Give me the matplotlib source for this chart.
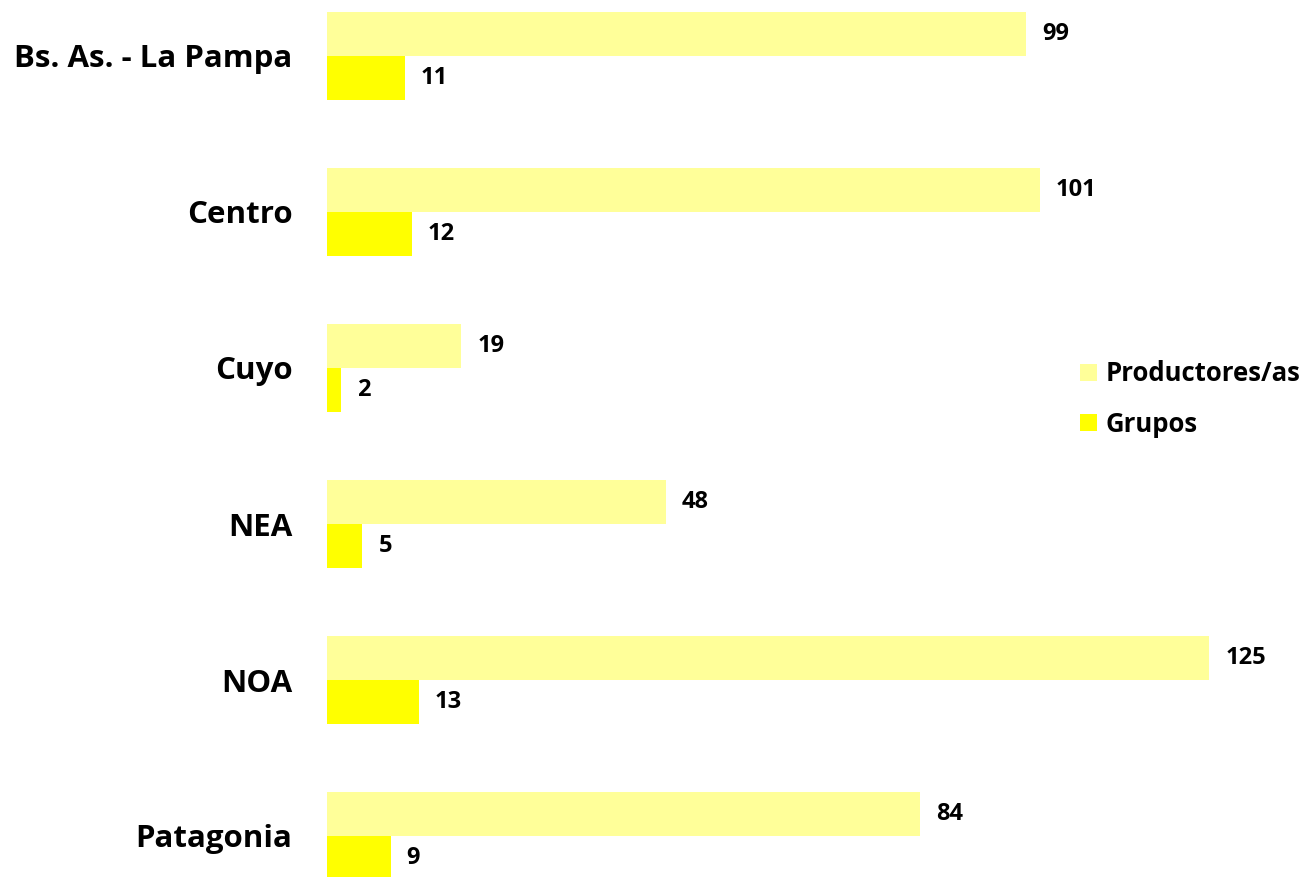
import numpy as np
import matplotlib.pyplot as plt

# datos del gráfico
regiones = ['Bs. As. - La Pampa', 'Centro', 'Cuyo', 'NEA', 'NOA', 'Patagonia']
productores = [99, 101, 19, 48, 125, 84]
grupos = [11, 12, 2, 5, 13, 9]

plt.rcParams['font.family'] = ['Open Sans', 'DejaVu Sans']
plt.rcParams['font.weight'] = 'bold'

fig = plt.figure(figsize=(13.12, 8.77), dpi=100)
# eje ocupando todo el alto; a la izquierda dejamos sitio para las etiquetas
ax = fig.add_axes([327 / 1312, 0, 985 / 1312, 1])

y = np.arange(len(regiones))
h = 0.282
c_prod = '#FFFF99'
c_grup = '#FFFF00'

b1 = ax.barh(y - h / 2, productores, height=h, color=c_prod, label='Productores/as')
b2 = ax.barh(y + h / 2, grupos, height=h, color=c_grup, label='Grupos')

for bars, vals in [(b1, productores), (b2, grupos)]:
    for bar, v in zip(bars, vals):
        ax.text(v + 2.3, bar.get_y() + bar.get_height() / 2, str(v),
                va='center', ha='left', fontsize=17, fontweight='bold')

ax.set_xlim(0, 985 / 7.056)
ax.set_ylim((877 - 56) / 156, -56 / 156)
ax.set_yticks(y)
ax.set_yticklabels(regiones, fontsize=22.5, fontweight='bold')
ax.tick_params(axis='y', length=0, pad=25)
ax.set_xticks([])
for s in ax.spines.values():
    s.set_visible(False)

ax.legend(loc='center left', bbox_to_anchor=(740 / 985, 0.545), frameon=False,
          fontsize=18.5, handlelength=0.65, handleheight=0.65, handletextpad=0.35,
          labelspacing=0.9, borderpad=0)

fig.savefig('out.png', dpi=100)
